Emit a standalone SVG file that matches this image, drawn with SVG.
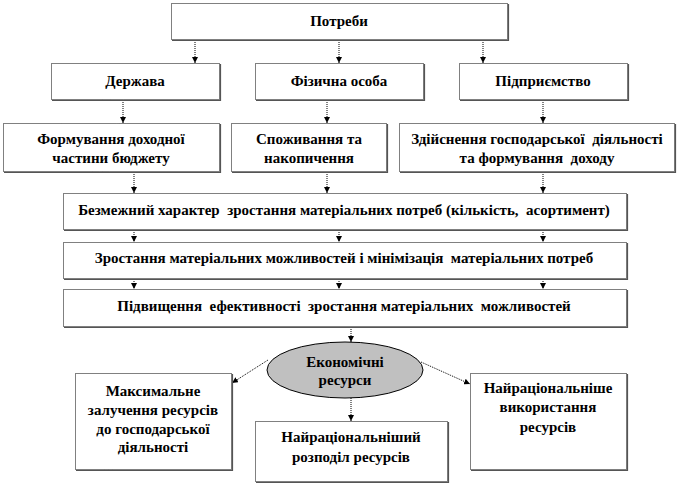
<svg xmlns="http://www.w3.org/2000/svg" width="678" height="485" viewBox="0 0 678 485" font-family="Liberation Serif, Times New Roman, serif">
<style>
.box{fill:#fff;stroke:#000;stroke-width:1;stroke-dasharray:1 1}
.sh{fill:none;stroke:#555;stroke-width:1.2}
text{font-family:"Liberation Serif",serif}
.t{font-weight:bold;font-size:15px;fill:#000;text-anchor:middle}
.c{stroke:#000;stroke-width:1;stroke-dasharray:1 1;fill:none;marker-end:url(#ah)}
</style>
<defs>
<marker id="ah" viewBox="0 0 10 10" refX="10" refY="5" markerWidth="6" markerHeight="6" markerUnits="userSpaceOnUse" orient="auto">
<path d="M0,0 L10,5 L0,10 z" fill="#000"/>
</marker>
</defs>
<rect width="678" height="485" fill="#fff"/>
<g id="connectors">
<line class="c" x1="195" y1="40" x2="195" y2="63"/>
<line class="c" x1="339" y1="40" x2="339" y2="63"/>
<line class="c" x1="483" y1="40" x2="483" y2="63"/>
<line class="c" x1="123" y1="100" x2="123" y2="123"/>
<line class="c" x1="327" y1="100" x2="327" y2="123"/>
<line class="c" x1="543" y1="100" x2="543" y2="123"/>
<line class="c" x1="134" y1="172" x2="134" y2="193"/>
<line class="c" x1="327" y1="172" x2="327" y2="193"/>
<line class="c" x1="543" y1="172" x2="543" y2="193"/>
<line class="c" x1="134" y1="230" x2="134" y2="242"/>
<line class="c" x1="339" y1="230" x2="339" y2="242"/>
<line class="c" x1="543" y1="230" x2="543" y2="242"/>
<line class="c" x1="134" y1="279" x2="134" y2="289"/>
<line class="c" x1="339" y1="279" x2="339" y2="289"/>
<line class="c" x1="543" y1="279" x2="543" y2="289"/>
<line class="c" x1="351" y1="327" x2="351" y2="342"/>
<line class="c" x1="268" y1="360" x2="232" y2="383"/>
<line class="c" x1="421" y1="362" x2="470" y2="384"/>
<line class="c" x1="351" y1="398" x2="351" y2="421"/>
</g>
<g id="n-potreby">
<rect class="box" x="171.5" y="3.5" width="336" height="36"/>
<polyline class="sh" points="172,40.5 508.5,40.5 508.5,4"/>
<text class="t" x="339" y="26">Потреби</text>
</g>
<g id="n-derzhava">
<rect class="box" x="51.5" y="63.5" width="168" height="36"/>
<polyline class="sh" points="52,100.5 220.5,100.5 220.5,64"/>
<text class="t" x="135" y="86">Держава</text>
</g>
<g id="n-fizychna">
<rect class="box" x="255.5" y="63.5" width="168" height="36"/>
<polyline class="sh" points="256,100.5 424.5,100.5 424.5,64"/>
<text class="t" x="339" y="86">Фізична особа</text>
</g>
<g id="n-pidpryiemstvo">
<rect class="box" x="459.5" y="63.5" width="168" height="36"/>
<polyline class="sh" points="460,100.5 628.5,100.5 628.5,64"/>
<text class="t" x="543" y="86">Підприємство</text>
</g>
<g id="n-formuvannia">
<rect class="box" x="3.5" y="123.5" width="216" height="48"/>
<polyline class="sh" points="4,172.5 220.5,172.5 220.5,124"/>
<text class="t" x="111" y="144">Формування доходної</text>
<text class="t" x="111" y="163">частини бюджету</text>
</g>
<g id="n-spozhyvannia">
<rect class="box" x="231.5" y="123.5" width="155" height="48"/>
<polyline class="sh" points="232,172.5 387.5,172.5 387.5,124"/>
<text class="t" x="309" y="144">Споживання та</text>
<text class="t" x="309" y="163">накопичення</text>
</g>
<g id="n-zdiisnennia">
<rect class="box" x="399.5" y="123.5" width="275" height="48"/>
<polyline class="sh" points="400,172.5 675.5,172.5 675.5,124"/>
<text class="t" x="537" y="144" xml:space="preserve">Здійснення господарської  діяльності</text>
<text class="t" x="537" y="163" xml:space="preserve">та формування  доходу</text>
</g>
<g id="n-bezmezhnyi">
<rect class="box" x="63.5" y="193.5" width="563" height="36"/>
<polyline class="sh" points="64,230.5 627.5,230.5 627.5,194"/>
<text class="t" x="344" y="215" xml:space="preserve">Безмежний характер  зростання матеріальних потреб (кількість,  асортимент)</text>
</g>
<g id="n-zrostannia">
<rect class="box" x="63.5" y="242.5" width="563" height="36"/>
<polyline class="sh" points="64,279.5 627.5,279.5 627.5,243"/>
<text class="t" x="344" y="263" xml:space="preserve">Зростання матеріальних можливостей і мінімізація  матеріальних потреб</text>
</g>
<g id="n-pidvyshchennia">
<rect class="box" x="63.5" y="289.5" width="563" height="37"/>
<polyline class="sh" points="64,327.5 627.5,327.5 627.5,290"/>
<text class="t" x="344" y="311" xml:space="preserve">Підвищення  ефективності  зростання матеріальних  можливостей</text>
</g>
<g id="n-resursy">
<ellipse cx="345" cy="370" rx="78" ry="28" fill="#c0c0c0" stroke="#000" stroke-width="1"/>
<text class="t" x="345" y="367">Економічні</text>
<text class="t" x="345" y="385">ресурси</text>
</g>
<g id="n-maksymalne">
<rect class="box" x="75.5" y="373.5" width="156" height="96"/>
<polyline class="sh" points="76,470.5 232.5,470.5 232.5,374"/>
<text class="t" x="153" y="396">Максимальне</text>
<text class="t" x="153" y="415">залучення ресурсів</text>
<text class="t" x="153" y="434">до господарської</text>
<text class="t" x="153" y="452">діяльності</text>
</g>
<g id="n-rozpodil">
<rect class="box" x="255.5" y="421.5" width="192" height="60"/>
<polyline class="sh" points="256,482.5 448.5,482.5 448.5,422"/>
<text class="t" x="351" y="442">Найраціональніший</text>
<text class="t" x="351" y="462">розподіл ресурсів</text>
</g>
<g id="n-vykorystannia">
<rect class="box" x="470.5" y="373.5" width="156" height="96"/>
<polyline class="sh" points="471,470.5 627.5,470.5 627.5,374"/>
<text class="t" x="548" y="393">Найраціональніше</text>
<text class="t" x="548" y="412">використання</text>
<text class="t" x="548" y="432">ресурсів</text>
</g>
</svg>
